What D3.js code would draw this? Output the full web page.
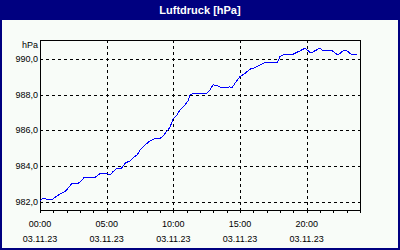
<!DOCTYPE html>
<html>
<head>
<meta charset="utf-8">
<script src="https://cdn.jsdelivr.net/npm/d3@7"></script>
<style>
  body { margin: 0; padding: 0; background: #fff; }
  svg { display: block; }
</style>
</head>
<body>
<div id="chart"></div>
<script>
// DATA ######################################################
const title = "Luftdruck [hPa]";
const unitLabel = "hPa";
const dateLabel = "03.11.23";

// hours since 00:00 on 03.11.23
const hours = [
  0.0, 0.15, 0.45, 0.6, 0.83, 0.98, 1.28, 1.5, 1.88, 2.1,
  2.4, 2.85, 3.15, 3.3, 4.13, 4.5, 5.03, 5.25, 5.48, 5.78,
  6.08, 6.38, 6.75, 6.98, 7.28, 7.5, 7.88, 8.25, 8.63, 9.0,
  9.23, 9.53, 9.75, 9.98, 10.28, 10.5, 10.88, 11.1, 11.25, 11.48,
  12.53, 12.75, 12.98, 13.28, 13.5, 14.25, 14.4, 14.63, 15.0, 15.38,
  15.75, 16.13, 16.5, 16.88, 17.78, 18.0, 18.23, 18.9, 19.13, 19.5,
  19.88, 20.1, 20.33, 20.63, 21.0, 21.23, 21.9, 22.35, 22.73, 23.03,
  23.4, 23.78
];
const pressure = [
  982.04, 982.15, 982.15, 982.10, 982.10, 982.15, 982.32, 982.43, 982.56, 982.75,
  983.03, 983.01, 983.22, 983.35, 983.37, 983.57, 983.57, 983.50, 983.69, 983.88,
  983.84, 984.16, 984.29, 984.46, 984.62, 984.90, 985.19, 985.41, 985.56, 985.55,
  985.69, 985.97, 986.18, 986.63, 986.87, 987.15, 987.43, 987.66, 987.99, 988.09,
  988.09, 988.28, 988.56, 988.52, 988.43, 988.44, 988.39, 988.65, 989.02, 989.21,
  989.44, 989.53, 989.68, 989.81, 989.79, 990.15, 990.24, 990.24, 990.34, 990.47,
  990.62, 990.48, 990.34, 990.48, 990.62, 990.48, 990.48, 990.24, 990.47, 990.47,
  990.24, 990.24
];

const yTicks = [982, 984, 986, 988, 990];
const xMajorTicks = [0, 5, 10, 15, 20];
const xMinorTicks = d3.range(0, 25, 1);

// CONSTANTS #################################################
const width = 400;
const height = 250;
const plot = { left: 40, right: 360, top: 40, bottom: 210 };
const navy = "#000080";
const fontFamily = "'Liberation Sans', Arial, sans-serif";

// SCALES ====================================================
const xScale = d3.scaleLinear()
    .domain([0, 24])
    .range([plot.left, plot.right]);

const yScale = d3.scaleLinear()
    .domain([981.53, 991.08])
    .range([plot.bottom, plot.top]);

const fmtY = v => d3.format(".1f")(v).replace(".", ",");
const fmtH = h => d3.format("02d")(h) + ":00";

// SVG =======================================================
const svg = d3.select("#chart")
    .append("svg")
    .attr("width", width)
    .attr("height", height)
    .style("font-family", fontFamily);

// frame + title bar
svg.append("rect")
    .attr("x", 0).attr("y", 0)
    .attr("width", width).attr("height", height)
    .attr("fill", navy);

svg.append("rect")
    .attr("x", 2).attr("y", 20)
    .attr("width", width - 4).attr("height", height - 22)
    .attr("fill", "#f8fcf8");

svg.append("text")
    .attr("x", width / 2)
    .attr("y", 14)
    .attr("text-anchor", "middle")
    .style("font-weight", "bold")
    .style("font-size", "11px")
    .style("fill", "#fff")
    .text(title);

// GRID ------------------------------------------------------
svg.append("g")
    .selectAll("line")
    .data(yTicks)
    .join("line")
    .attr("x1", plot.left).attr("x2", plot.right)
    .attr("y1", d => Math.round(yScale(d)) + 0.5)
    .attr("y2", d => Math.round(yScale(d)) + 0.5)
    .attr("stroke", "#000")
    .attr("stroke-dasharray", "3,3")
    .attr("shape-rendering", "crispEdges");

svg.append("g")
    .selectAll("line")
    .data(xMajorTicks.filter(d => d > 0))
    .join("line")
    .attr("x1", d => Math.round(xScale(d)) + 0.5)
    .attr("x2", d => Math.round(xScale(d)) + 0.5)
    .attr("y1", plot.top).attr("y2", plot.bottom)
    .attr("stroke", "#000")
    .attr("stroke-dasharray", "3,3")
    .attr("shape-rendering", "crispEdges");

// AXES ------------------------------------------------------
// minor ticks under the x axis
svg.append("g")
    .attr("transform", `translate(0,${plot.bottom})`)
    .call(d3.axisBottom(xScale).tickValues(xMinorTicks).tickSize(3).tickFormat(""))
    .call(g => g.select(".domain").remove())
    .call(g => g.selectAll("line").attr("shape-rendering", "crispEdges"));

// x labels (time + date)
const xLab = svg.append("g")
    .selectAll("g")
    .data(xMajorTicks)
    .join("g")
    .attr("transform", d => `translate(${xScale(d)},0)`)
    .style("font-size", "9px")
    .style("fill", "#000")
    .attr("text-anchor", "middle");

xLab.append("text").attr("y", 227).text(d => fmtH(d));
xLab.append("text").attr("y", 242).text(dateLabel);

// y labels
svg.append("g")
    .selectAll("text")
    .data(yTicks)
    .join("text")
    .attr("x", plot.left - 2)
    .attr("y", d => yScale(d) + 3)
    .attr("text-anchor", "end")
    .style("font-size", "9px")
    .text(d => fmtY(d));

svg.append("text")
    .attr("x", plot.left - 2)
    .attr("y", 48)
    .attr("text-anchor", "end")
    .style("font-size", "9px")
    .text(unitLabel);

// plot border
svg.append("rect")
    .attr("x", plot.left + 0.5).attr("y", plot.top + 0.5)
    .attr("width", plot.right - plot.left).attr("height", plot.bottom - plot.top)
    .attr("fill", "none")
    .attr("stroke", "#000")
    .attr("shape-rendering", "crispEdges");

// LINE ======================================================
const series = hours.map((h, i) => ({ h, p: pressure[i] }));

svg.append("path")
    .datum(series)
    .attr("fill", "none")
    .attr("stroke", "#0000ff")
    .attr("stroke-width", 1)
    .attr("shape-rendering", "crispEdges")
    .attr("d", d3.line().x(d => xScale(d.h)).y(d => yScale(d.p)));
</script>
</body>
</html>
